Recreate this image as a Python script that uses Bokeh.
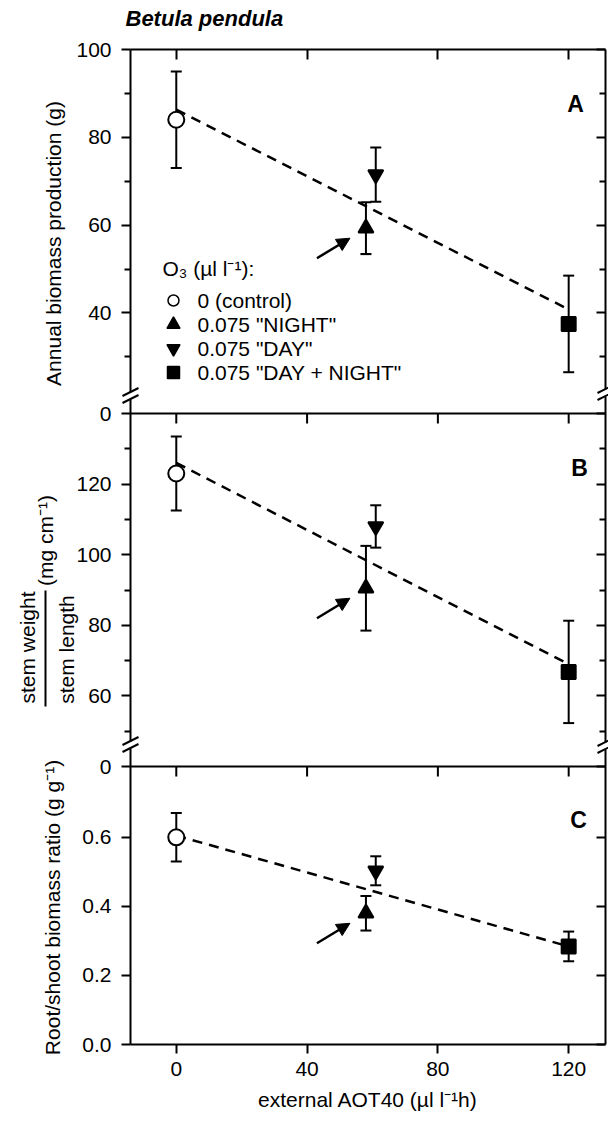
from bokeh.plotting import figure
from bokeh.models import (Range1d, LinearAxis, FixedTicker, Label, Arrow, NormalHead,
                          Whisker, TeeHead, ColumnDataSource)
from bokeh.embed import file_html
from bokeh.resources import INLINE
from bokeh.core.properties import value

# ---------------- data ----------------
treatments = ["0 (control)", '0.075 "NIGHT"', '0.075 "DAY"', '0.075 "DAY + NIGHT"']
aot40 = [0, 58, 61, 120]                      # external AOT40 (µl l-1 h)
biomass = [84.0, 59.3, 71.5, 37.5]            # annual biomass production (g)
biomass_err = [11.0, 5.9, 6.2, 11.0]
stem_ratio = [123.0, 90.5, 108.0, 66.8]       # stem weight / stem length (mg cm-1)
stem_ratio_err = [10.5, 12.0, 6.0, 14.5]
root_shoot = [0.600, 0.380, 0.503, 0.284]     # root/shoot biomass ratio (g g-1)
root_shoot_err = [0.070, 0.050, 0.042, 0.043]
fit_x = [0, 120]
fit_biomass = [86.3, 40.8]
fit_stem = [126.0, 69.0]
fit_root = [0.605, 0.284]
x_ticks = [0, 40, 80, 120]
ticks_A = [40, 60, 80, 100]
minor_A = [30, 50, 70, 90]
ticks_B = [60, 80, 100, 120]
minor_B = [50, 70, 90, 110, 130]
ticks_C = [0.0, 0.2, 0.4, 0.6]

# ---------------- layout / style ----------------
W, H = 608, 1122
FL, FR, FT, FB = 130, 605, 49, 1044          # plot box in canvas pixels
B_AB, B_BC = 413, 766                         # panel boundaries
X_LO, X_PX = -14.0, 3.27                      # AOT40 at left edge, px per unit
X_HI = X_LO + (FR - FL) / X_PX
FONT = "Liberation Sans"
markers = ["circle", "triangle", "inverted_triangle", "square"]
fills = ["white", "black", "black", "black"]
msize = [16, 15, 15, 14]

# panel: (value at bottom, value at top, canvas top, canvas bottom)
PANELS = {"A": (17.1, 100.0, FT, B_AB),
          "B": (40.0, 140.0, B_AB, B_BC),
          "C": (0.0, 0.805, B_BC, FB)}


def scale(panel):
    lo, hi, top, bot = PANELS[panel]
    return (bot - top) / (hi - lo)


def cy(v, panel):
    lo, hi, top, bot = PANELS[panel]
    return round(top + (hi - v) * scale(panel), 2)


def prange(panel):
    lo, hi, top, bot = PANELS[panel]
    s = scale(panel)
    return Range1d(start=lo - (H - bot) / s, end=hi + top / s)


p = figure(width=W, height=H,
           x_range=Range1d(X_LO - FL / X_PX, X_HI + (W - FR) / X_PX),
           y_range=Range1d(H, 0),
           output_backend="svg", toolbar_location=None,
           x_axis_location=None, y_axis_location=None,
           min_border_left=0, min_border_right=0, min_border_top=0, min_border_bottom=0)
p.extra_x_ranges = {"px": Range1d(0, W)}
p.extra_y_ranges = {k: prange(k) for k in PANELS}
p.outline_line_color = None
p.background_fill_color = "white"
p.border_fill_color = "white"
p.title.visible = False
p.xgrid.visible = False
p.ygrid.visible = False

# ---------------- axes ----------------
major, minor, over = [], [], {}
for v in ticks_A:
    pos = cy(v, "A"); major.append(pos); over[pos] = str(v)
pos = cy(PANELS["A"][0], "A"); major.append(pos); over[pos] = "0"
minor += [cy(v, "A") for v in minor_A]
for v in ticks_B:
    pos = cy(v, "B"); major.append(pos); over[pos] = str(v)
pos = cy(PANELS["B"][0], "B"); major.append(pos); over[pos] = "0"
minor += [cy(v, "B") for v in minor_B]
for v in ticks_C:
    pos = cy(v, "C"); major.append(pos); over[pos] = f"{v:.1f}"

common = dict(axis_line_width=2, major_tick_line_width=2, minor_tick_line_width=2,
              axis_line_color="black", major_tick_line_color="black", minor_tick_line_color="black")
left = LinearAxis(ticker=FixedTicker(ticks=major, minor_ticks=minor), major_label_overrides=over,
                  fixed_location=X_LO, bounds=(FT, FB),
                  major_tick_out=9, major_tick_in=0, minor_tick_out=6, minor_tick_in=0,
                  major_label_text_font_size="21px", major_label_text_font=FONT,
                  major_label_text_color="black", major_label_standoff=10, **common)
p.add_layout(left, "left")

right = LinearAxis(ticker=FixedTicker(ticks=major, minor_ticks=minor),
                   fixed_location=X_HI, bounds=(FT, FB),
                   major_tick_out=0, major_tick_in=9, minor_tick_out=0, minor_tick_in=6,
                   major_label_text_color=None, major_label_text_font_size="1px",
                   major_label_standoff=0, **common)
p.add_layout(right, "right")

above = LinearAxis(ticker=FixedTicker(ticks=x_ticks, minor_ticks=[]),
                   fixed_location=FT, bounds=(X_LO, X_HI),
                   major_tick_out=0, major_tick_in=10, minor_tick_out=0, minor_tick_in=0,
                   major_label_text_color=None, major_label_text_font_size="1px",
                   major_label_standoff=0, **common)
p.add_layout(above, "above")

below = LinearAxis(ticker=FixedTicker(ticks=x_ticks, minor_ticks=[]),
                   fixed_location=FB, bounds=(X_LO, X_HI),
                   major_tick_out=9, major_tick_in=0, minor_tick_out=0, minor_tick_in=0,
                   major_label_text_font_size="21px", major_label_text_font=FONT,
                   major_label_text_color="black", major_label_standoff=8,
                   axis_label="external AOT40 (µl l\u207b\u00b9h)", axis_label_text_font=FONT,
                   axis_label_text_font_size="21px", axis_label_text_font_style="normal",
                   axis_label_text_color="black", axis_label_standoff=9, **common)
p.add_layout(below, "below")

# panel separators with their inward ticks
for b in (B_AB, B_BC):
    p.segment(x0=[X_LO], x1=[X_HI], y0=[b], y1=[b], line_color="black", line_width=2)
    p.segment(x0=x_ticks, x1=x_ticks, y0=[b] * len(x_ticks), y1=[b + 10] * len(x_ticks),
              line_color="black", line_width=2)

# axis breaks
for bx, by in ((FL, 395), (FL, 744), (FR, 392), (FR, 745)):
    p.add_layout(Arrow(x_start=bx, y_start=by + 4, x_end=bx, y_end=by - 3, end=None,
                       x_range_name="px", line_color="white", line_width=5))
    for off in (-3.5, 3.5):
        p.add_layout(Arrow(x_start=bx - 8, y_start=by + off + 4, x_end=bx + 8, y_end=by + off - 4,
                           end=None, x_range_name="px", line_color="black", line_width=2))

# ---------------- data panels ----------------
panel_data = [("A", biomass, biomass_err, fit_biomass),
              ("B", stem_ratio, stem_ratio_err, fit_stem),
              ("C", root_shoot, root_shoot_err, fit_root)]
for name, vals, errs, fit in panel_data:
    p.line(fit_x, fit, y_range_name=name, line_color="black", line_width=2.5, line_dash="10 7")
    src = ColumnDataSource(dict(x=aot40, y=vals,
                                upper=[v + e for v, e in zip(vals, errs)],
                                lower=[v - e for v, e in zip(vals, errs)],
                                marker=markers, fill=fills, size=msize))
    p.add_layout(Whisker(source=src, base="x", upper="upper", lower="lower", dimension="height",
                         y_range_name=name, line_color="black", line_width=2, level="glyph",
                         upper_head=TeeHead(size=11, line_width=2, line_color="black"),
                         lower_head=TeeHead(size=11, line_width=2, line_color="black")))
    p.scatter(x="x", y="y", marker="marker", size="size", fill_color="fill", line_color="black",
              line_width=2, source=src, y_range_name=name, level="annotation")
    # arrow pointing at the "NIGHT" treatment
    s = scale(name)
    nx, ny = aot40[1], vals[1]
    p.add_layout(Arrow(x_start=nx - 49 / X_PX, y_start=ny - 30 / s, x_end=nx - 16 / X_PX, y_end=ny - 10 / s,
                       y_range_name=name, line_color="black", line_width=2.5,
                       end=NormalHead(size=13, fill_color="black", line_color="black", line_width=1)))

# ---------------- legend ----------------
leg_y = [300 + 24 * i for i in range(len(treatments))]
p.scatter(x=[173] * 4, y=leg_y, x_range_name="px", marker=markers, size=[11, 13, 13, 12],
          fill_color=fills, line_color="black", line_width=1.5)
p.text(x=[197] * 4, y=leg_y, text=treatments, x_range_name="px", text_baseline="middle",
       text_font=value(FONT), text_font_size="21px", text_color="black")
p.text(x=[162], y=[268], text=["O\u2083 (µl l\u207b\u00b9):"], x_range_name="px",
       text_baseline="middle", text_font=value(FONT), text_font_size="21px", text_color="black")


# ---------------- texts ----------------
def lab(x, y, text, size="21px", angle=0, style="normal", align="center"):
    p.add_layout(Label(x=x, y=y, text=text, x_range_name="px", angle=angle, angle_units="deg",
                       text_align=align, text_baseline="middle", text_font=FONT,
                       text_font_size=size, text_font_style=style, text_color="black"))


lab(125, 18, "Betula pendula", size="22px", style="bold italic", align="left")
lab(53, 243, "Annual biomass production (g)", angle=90)
lab(27, 647, "stem weight", angle=90)
lab(66, 649, "stem length", angle=90)
lab(45, 540, "(mg cm\u207b\u00b9)", angle=90)
p.add_layout(Arrow(x_start=45, y_start=590, x_end=45, y_end=706, end=None, x_range_name="px",
                   line_color="black", line_width=2))
lab(52, 907, "Root/shoot biomass ratio (g g\u207b\u00b9)", angle=90)
lab(575, 103, "A", size="23px", style="bold")
lab(579, 467, "B", size="23px", style="bold")
lab(578, 819, "C", size="23px", style="bold")

open("out.html", "w").write(file_html(p, INLINE))
